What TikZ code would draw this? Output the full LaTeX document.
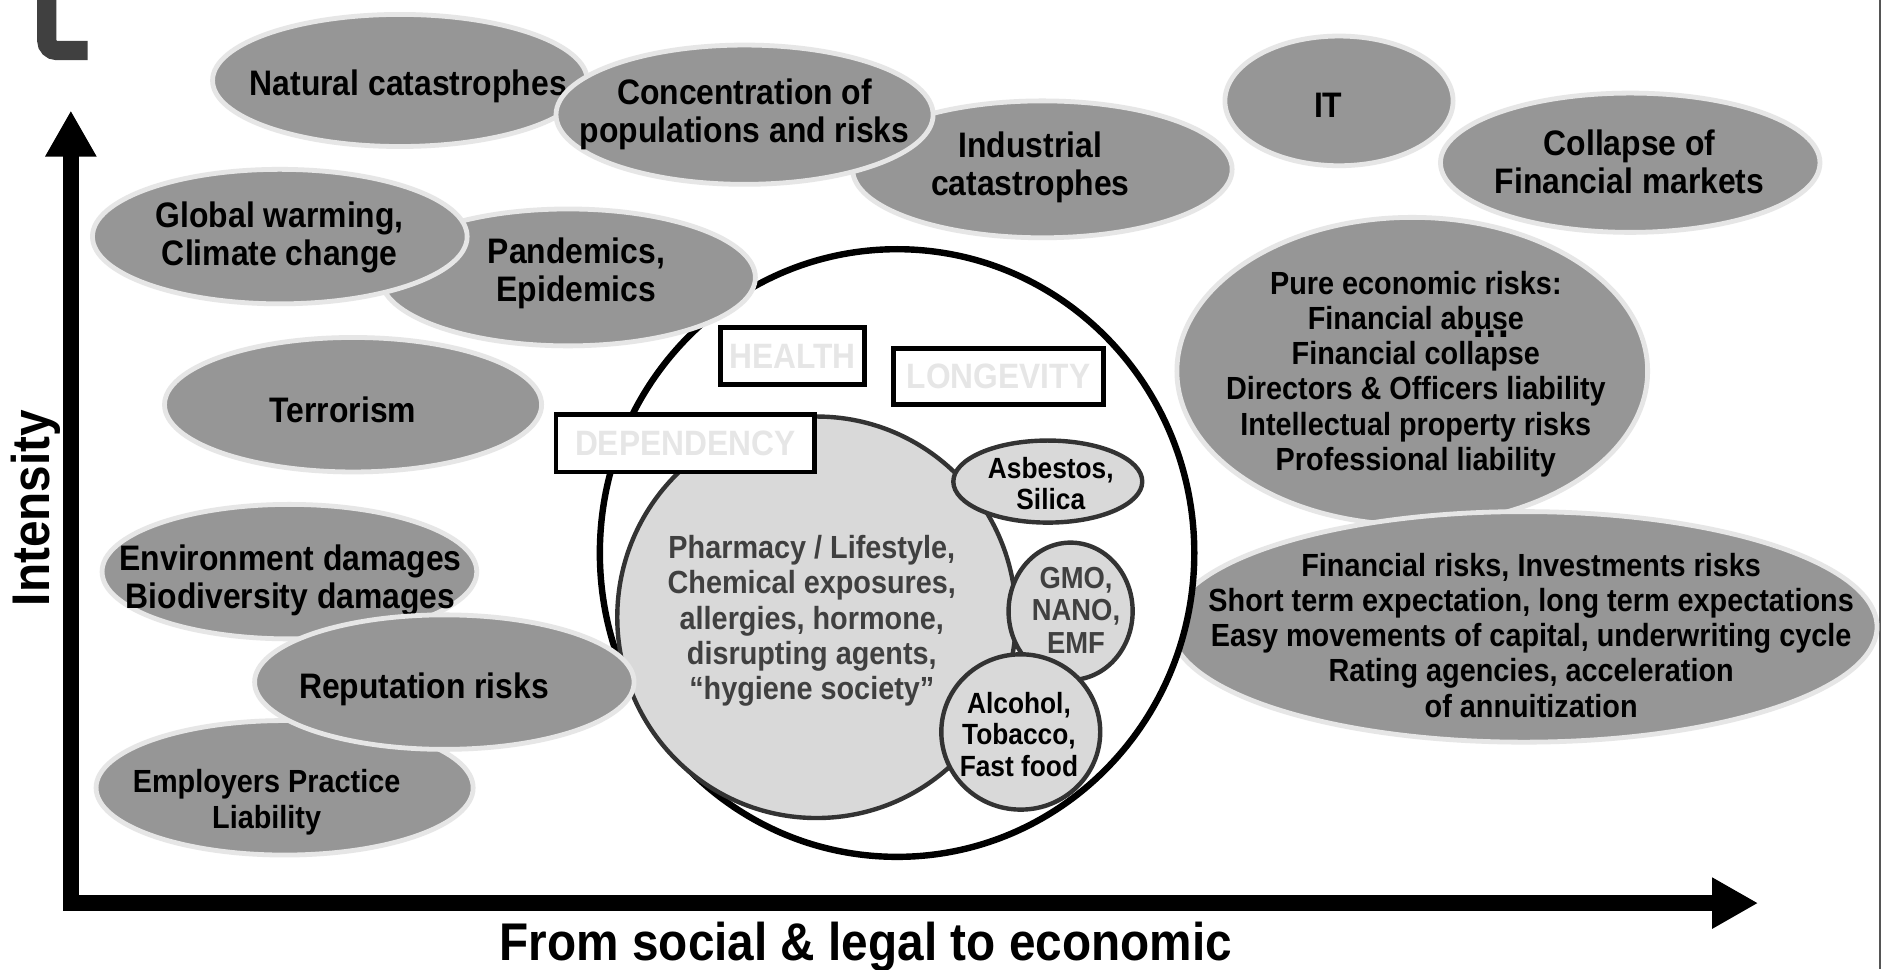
\documentclass[tikz,border=0pt]{standalone}
\usepackage{fontspec}
\setmainfont{Liberation Sans}[FakeStretch=0.9]
\usetikzlibrary{shapes.geometric,arrows.meta}
\definecolor{ellgray}{HTML}{969696}
\definecolor{ringgray}{HTML}{E6E6E6}
\definecolor{corefill}{HTML}{D9D9D9}
\definecolor{coreline}{HTML}{333333}
\definecolor{coretext}{HTML}{404040}
\definecolor{tagtext}{HTML}{E6E6E6}
\definecolor{markgray}{HTML}{404040}
\definecolor{edgegray}{HTML}{555555}

\begin{document}
\begin{tikzpicture}[x=0.6pt,y=-0.6pt,
  riskell/.style={ellipse, draw=ringgray, line width=2.4pt, fill=ellgray, inner sep=0pt},
  bigtext/.style={align=center, inner sep=0pt, font=\bfseries\fontsize{17.7}{19}\selectfont},
  midtext/.style={align=center, inner sep=0pt, font=\bfseries\fontsize{16}{17.6}\selectfont},
  smalltext/.style={align=center, inner sep=0pt, font=\bfseries\fontsize{14.6}{15.6}\selectfont},
  agent/.style={ellipse, draw=coreline, line width=2.2pt, fill=corefill, inner sep=0pt},
  tagbox/.style={draw=black, line width=2.4pt, fill=white, inner sep=0pt, text=tagtext,
    font=\bfseries\fontsize{17.6}{18}\selectfont},
  axisarrow/.style={line width=7.8pt, {Triangle[length=23pt,width=24pt]}-{Triangle[length=23pt,width=24pt]}},
  axislabel/.style={inner sep=0pt, font=\bfseries\fontsize{26.5}{28}\selectfont}
]
% canvas
\useasboundingbox (0,0) rectangle (1568,807);
\fill[white] (0,0) rectangle (1568,807);

% thin frame line at the right edge
\coordinate (edgetop) at (1565.5,0);
\coordinate (edgebot) at (1565.5,807);
\draw[edgegray, line width=1pt] (edgetop) -- (edgebot);

% corner mark, top left
\draw[markgray, line width=9.6pt, rounded corners=4.8pt] (39,-20) -- (39,42) -- (73,42);

% economic risks, right
\node[riskell, minimum width=235.2pt, minimum height=153.6pt] (pure) at (1176,309) {};
\node[midtext] (pureT) at (1179,311.5) {Pure economic risks:\\Financial abuse\\Financial collapse\\Directors \& Officers liability\\Intellectual property risks\\Professional liability};
\node[inner sep=0pt, anchor=base, font=\bfseries\fontsize{22}{22}\selectfont] (pureDots) at (1242,281) {…};

\node[riskell, minimum width=352.8pt, minimum height=115.2pt] (fin) at (1269,522) {};
\node[midtext] (finT) at (1275,529) {Financial risks, Investments risks\\Short term expectation, long term expectations\\Easy movements of capital, underwriting cycle\\Rating agencies, acceleration\\of annuitization};

% health ring in the centre
\node[ellipse, draw=black, line width=3.2pt, fill=white, inner sep=0pt,
      minimum width=297pt, minimum height=303.6pt] (ring) at (747,460.5) {};

\node[agent, minimum width=199.2pt, minimum height=200.6pt] (core) at (680,514) {};
\node[midtext, text=coretext] (coreT) at (676,517) {Pharmacy / Lifestyle,\\Chemical exposures,\\allergies, hormone,\\disrupting agents,\\“hygiene society”};

\node[agent, minimum width=94.4pt, minimum height=41pt] (asb) at (872.5,401) {};
\node[smalltext] (asbT) at (875,402.5) {Asbestos,\\Silica};

\node[agent, minimum width=62pt, minimum height=68.6pt] (gmo) at (891.5,509) {};
\node[align=center, inner sep=0pt, text=coretext, font=\bfseries\fontsize{15.2}{16.2}\selectfont] (gmoT) at (896,508) {GMO,\\NANO,\\EMF};

\node[agent, minimum width=79.4pt, minimum height=77.6pt] (alc) at (850,609.5) {};
\node[smalltext] (alcT) at (848.5,611.5) {Alcohol,\\Tobacco,\\Fast food};

\node[tagbox, minimum width=72pt, minimum height=28.2pt] (health) at (660,296.5) {HEALTH};
\node[tagbox, minimum width=105pt, minimum height=28.2pt] (longevity) at (831.5,313.5) {LONGEVITY};
\node[tagbox, minimum width=129pt, minimum height=28.8pt] (dependency) at (570.5,369) {DEPENDENCY};

% catastrophe risks, top
\node[riskell, minimum width=187.2pt, minimum height=66pt] (natural) at (333,67) {};
\node[bigtext] (naturalT) at (340,72) {Natural catastrophes};

\node[riskell, minimum width=189.6pt, minimum height=68.4pt] (industrial) at (868,141) {};
\node[bigtext] (industrialT) at (858,139.5) {Industrial\\catastrophes};

\node[riskell, minimum width=188.4pt, minimum height=69.6pt] (concentration) at (620,95.5) {};
\node[bigtext] (concentrationT) at (620,95) {Concentration of\\populations and risks};

\node[riskell, minimum width=114pt, minimum height=64.8pt] (it) at (1115,84) {};
\node[bigtext] (itT) at (1106,87.5) {IT};

\node[riskell, minimum width=189.6pt, minimum height=69.6pt] (collapse) at (1357.5,135.5) {};
\node[bigtext] (collapseT) at (1357,134.5) {Collapse of\\Financial markets};

% risks on the left
\node[riskell, minimum width=187.2pt, minimum height=68.4pt] (pandemics) at (473,231) {};
\node[bigtext] (pandemicsT) at (480,227.5) {Pandemics,\\Epidemics};

\node[riskell, minimum width=187.2pt, minimum height=67.2pt] (warming) at (233,197) {};
\node[bigtext] (warmingT) at (233,197.5) {Global warming,\\Climate change};

\node[riskell, minimum width=188.4pt, minimum height=67.2pt] (terrorism) at (294,337) {};
\node[bigtext] (terrorismT) at (285.5,341) {Terrorism};

\node[riskell, minimum width=187.2pt, minimum height=67.2pt] (environment) at (241,476) {};
\node[bigtext] (environmentT) at (242,483) {Environment damages\\Biodiversity damages};

\node[riskell, minimum width=188.4pt, minimum height=67.2pt] (employers) at (237,656) {};
\node[midtext] (employersT) at (222,668) {Employers Practice\\Liability};

\node[riskell, minimum width=189.6pt, minimum height=67.2pt] (reputation) at (370,568) {};
\node[bigtext] (reputationT) at (353,574) {Reputation risks};

% axes
\coordinate (ytip) at (59,92);
\coordinate (origin) at (59,752);
\coordinate (xtip) at (1464,752);
\draw[axisarrow] (ytip) -- (origin) -- (xtip);

\node[axislabel, rotate=90] (ylabel) at (30,423) {Intensity};
\node[axislabel, anchor=base] (xlabel) at (721,800) {From social \& legal to economic};
\end{tikzpicture}
\end{document}
